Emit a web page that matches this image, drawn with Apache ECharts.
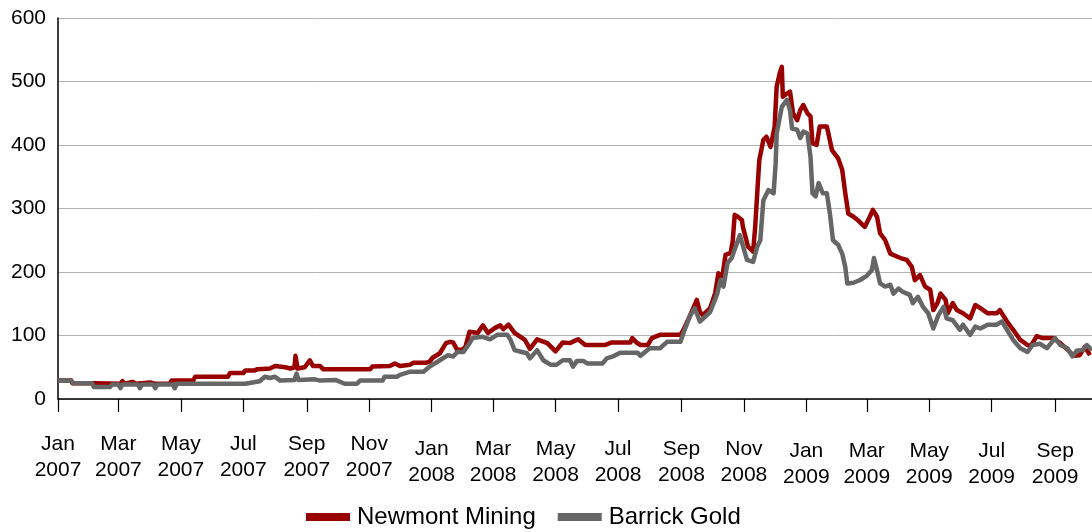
<!DOCTYPE html>
<html>
<head>
<meta charset="utf-8">
<script src="https://cdn.jsdelivr.net/npm/echarts@6/dist/echarts.min.js"></script>
<style>
html,body{margin:0;padding:0;background:#fff;}
#chart{width:1092px;height:532px;}
</style>
</head>
<body>
<div id="chart"></div>
<script>
// ---- Data ----
const seriesNames = ['Newmont Mining', 'Barrick Gold'];

const newmontDates = ['2007-01-01','2007-01-14','2007-01-15','2007-02-07','2007-02-08','2007-03-03','2007-03-05','2007-03-07','2007-03-15','2007-03-18','2007-04-01','2007-04-05','2007-04-20','2007-04-22','2007-05-13','2007-05-15','2007-06-16','2007-06-18','2007-07-01','2007-07-03','2007-07-12','2007-07-15','2007-07-27','2007-08-01','2007-08-11','2007-08-16','2007-08-20','2007-08-21','2007-08-23','2007-08-30','2007-09-04','2007-09-07','2007-09-14','2007-09-17','2007-11-02','2007-11-04','2007-11-21','2007-11-26','2007-12-01','2007-12-11','2007-12-14','2007-12-26','2007-12-30','2008-01-02','2008-01-09','2008-01-15','2008-01-19','2008-01-22','2008-01-26','2008-01-31','2008-02-03','2008-02-07','2008-02-15','2008-02-20','2008-02-25','2008-03-03','2008-03-08','2008-03-11','2008-03-16','2008-03-22','2008-04-01','2008-04-06','2008-04-13','2008-04-23','2008-05-01','2008-05-08','2008-05-15','2008-05-23','2008-05-30','2008-06-18','2008-06-25','2008-07-13','2008-07-15','2008-07-19','2008-07-23','2008-07-30','2008-08-03','2008-08-11','2008-08-31','2008-09-03','2008-09-09','2008-09-16','2008-09-19','2008-09-22','2008-09-29','2008-10-04','2008-10-07','2008-10-11','2008-10-14','2008-10-19','2008-10-21','2008-10-23','2008-10-26','2008-10-30','2008-10-31','2008-11-05','2008-11-10','2008-11-12','2008-11-14','2008-11-16','2008-11-20','2008-11-23','2008-11-27','2008-12-01','2008-12-03','2008-12-06','2008-12-08','2008-12-09','2008-12-13','2008-12-16','2008-12-19','2008-12-23','2008-12-26','2008-12-29','2009-01-02','2009-01-05','2009-01-07','2009-01-11','2009-01-14','2009-01-21','2009-01-26','2009-02-01','2009-02-05','2009-02-08','2009-02-11','2009-02-16','2009-02-20','2009-02-27','2009-03-04','2009-03-07','2009-03-11','2009-03-14','2009-03-19','2009-03-24','2009-03-31','2009-04-03','2009-04-09','2009-04-14','2009-04-17','2009-04-22','2009-04-27','2009-05-02','2009-05-05','2009-05-09','2009-05-12','2009-05-17','2009-05-19','2009-05-24','2009-05-28','2009-06-03','2009-06-10','2009-06-15','2009-06-20','2009-06-27','2009-07-06','2009-07-09','2009-07-16','2009-07-22','2009-07-29','2009-08-05','2009-08-08','2009-08-14','2009-08-20','2009-08-30','2009-09-06','2009-09-13','2009-09-19','2009-09-25','2009-09-30','2009-10-05'];
const newmontValues = [29,29,25,25,24,24,28,24,27,24,26,24,24,29,29,35,35,41,41,45,45,47,48,52,50,48,50,68,48,50,61,52,52,47,47,51,52,56,52,54,57,57,59,65,72,88,90,89,77,78,82,106,104,116,104,112,116,110,117,104,93,79,94,88,75,89,88,94,85,85,89,89,96,89,85,85,96,101,101,109,130,156,137,132,143,167,198,193,227,230,248,290,287,282,271,240,232,271,324,376,408,413,397,429,492,513,523,476,481,484,450,439,455,463,450,445,403,400,429,429,392,379,361,324,292,287,282,271,287,298,287,261,250,229,224,222,219,208,187,195,177,172,140,151,166,156,135,151,140,135,127,148,143,135,135,140,122,109,93,85,83,99,96,96,88,78,68,69,82,69];

const barrickDates = ['2007-01-01','2007-01-14','2007-01-16','2007-02-03','2007-02-05','2007-02-21','2007-02-23','2007-03-01','2007-03-03','2007-03-05','2007-03-20','2007-03-22','2007-03-24','2007-04-04','2007-04-06','2007-04-08','2007-04-23','2007-04-25','2007-04-27','2007-07-03','2007-07-17','2007-07-22','2007-07-27','2007-08-01','2007-08-06','2007-08-20','2007-08-22','2007-08-24','2007-09-09','2007-09-14','2007-09-29','2007-10-08','2007-10-20','2007-10-23','2007-11-14','2007-11-16','2007-11-28','2007-12-01','2007-12-11','2007-12-24','2007-12-30','2008-01-09','2008-01-17','2008-01-22','2008-01-26','2008-02-01','2008-02-07','2008-02-10','2008-02-20','2008-02-27','2008-03-05','2008-03-15','2008-03-18','2008-03-22','2008-03-29','2008-04-03','2008-04-06','2008-04-13','2008-04-19','2008-04-26','2008-05-02','2008-05-08','2008-05-15','2008-05-18','2008-05-22','2008-05-28','2008-06-01','2008-06-16','2008-06-20','2008-06-26','2008-07-03','2008-07-20','2008-07-23','2008-08-01','2008-08-11','2008-08-18','2008-08-31','2008-09-03','2008-09-09','2008-09-14','2008-09-19','2008-09-29','2008-10-06','2008-10-09','2008-10-12','2008-10-16','2008-10-20','2008-10-28','2008-11-04','2008-11-10','2008-11-14','2008-11-17','2008-11-20','2008-11-25','2008-11-30','2008-12-02','2008-12-03','2008-12-08','2008-12-13','2008-12-16','2008-12-18','2008-12-23','2008-12-26','2008-12-29','2009-01-02','2009-01-05','2009-01-07','2009-01-10','2009-01-13','2009-01-17','2009-01-21','2009-01-24','2009-01-27','2009-02-01','2009-02-05','2009-02-08','2009-02-10','2009-02-16','2009-02-22','2009-03-01','2009-03-06','2009-03-08','2009-03-11','2009-03-14','2009-03-19','2009-03-24','2009-03-27','2009-04-01','2009-04-05','2009-04-12','2009-04-15','2009-04-20','2009-04-25','2009-04-30','2009-05-05','2009-05-10','2009-05-15','2009-05-18','2009-05-24','2009-05-31','2009-06-03','2009-06-10','2009-06-15','2009-06-20','2009-06-27','2009-07-06','2009-07-11','2009-07-16','2009-07-22','2009-07-29','2009-08-05','2009-08-10','2009-08-17','2009-08-24','2009-09-01','2009-09-06','2009-09-13','2009-09-18','2009-09-22','2009-09-28','2009-10-02','2009-10-07'];
const barrickValues = [29,29,25,25,19,19,23,23,17,23,23,17,23,23,17,23,23,17,24,24,28,35,33,35,29,30,40,30,31,29,30,24,24,29,29,35,35,38,43,43,51,61,69,67,74,74,88,96,98,94,101,101,93,77,74,72,64,77,61,54,54,61,61,51,60,60,56,56,64,67,73,73,68,80,80,90,90,104,130,143,122,137,166,187,177,214,222,258,219,216,240,250,313,329,324,371,418,460,471,455,426,424,411,421,418,382,324,319,340,324,324,292,250,243,229,208,182,183,187,194,203,222,203,182,177,180,166,174,169,164,151,161,145,135,111,132,145,127,124,109,117,101,114,111,117,117,122,109,93,80,74,85,87,80,96,85,80,67,76,77,85,77];

const tickDates = ['2007-01-01','2007-03-01','2007-05-01','2007-07-01','2007-09-01','2007-11-01','2008-01-01','2008-03-01','2008-05-01','2008-07-01','2008-09-01','2008-11-01','2009-01-01','2009-03-01','2009-05-01','2009-07-01','2009-09-01'];
const tickLabels = ['Jan\n2007','Mar\n2007','May\n2007','Jul\n2007','Sep\n2007','Nov\n2007','Jan\n2008','Mar\n2008','May\n2008','Jul\n2008','Sep\n2008','Nov\n2008','Jan\n2009','Mar\n2009','May\n2009','Jul\n2009','Sep\n2009'];
const labelYears = ['2007', '2008', '2009'];
const axisStart = '2007-01-01';
const axisEnd = '2009-10-07';
const yMin = 0, yMax = 600, yStep = 100;

// ---- helpers ----
function toTs(s) { const p = s.split('-').map(Number); return Date.UTC(p[0], p[1] - 1, p[2]); }
const tickTs = tickDates.map(toTs);
function zip(d, v) { return d.map((x, i) => [toTs(x), v[i]]); }

const FONT = "'Liberation Sans', Arial, sans-serif";
const labelMargins = [32, 37, 39]; // the reference's label rows sit slightly lower each year

const xAxes = labelYears.map(function (yr, k) {
  const vals = tickTs.filter((t, i) => tickDates[i].slice(0, 4) === yr);
  return {
    type: 'value', position: 'bottom',
    min: toTs(axisStart), max: toTs(axisEnd),
    axisLine: { show: k === 0, lineStyle: { color: '#000', width: 1.5 } },
    axisTick: { show: k === 0, length: 13, lineStyle: { color: '#000', width: 1.2 }, customValues: tickTs },
    axisLabel: {
      customValues: vals,
      margin: labelMargins[k],
      fontFamily: FONT, fontSize: 21, color: '#000', lineHeight: 26,
      formatter: function (v) { const i = tickTs.indexOf(v); return i >= 0 ? tickLabels[i] : ''; }
    },
    splitLine: { show: false }
  };
});

const chart = echarts.init(document.getElementById('chart'), null, { renderer: 'canvas' });
chart.setOption({
  animation: false,
  backgroundColor: '#ffffff',
  grid: { left: 58, right: 0, top: 18, bottom: 133, containLabel: false },
  legend: {
    left: 306, top: 505, padding: 0,
    itemWidth: 44, itemHeight: 8, itemGap: 22,
    icon: 'rect',
    textStyle: { fontFamily: FONT, fontSize: 24, color: '#000', padding: [0, 0, 0, 2] },
    data: seriesNames
  },
  xAxis: xAxes,
  yAxis: {
    type: 'value', min: yMin, max: yMax, interval: yStep,
    axisLine: { show: true, lineStyle: { color: '#000', width: 1.5 } },
    axisTick: { show: false },
    axisLabel: { margin: 12, fontFamily: FONT, fontSize: 21, color: '#000' },
    splitLine: { show: true, lineStyle: { color: '#b3b3b3', width: 1 } }
  },
  series: [
    { name: seriesNames[0], type: 'line', xAxisIndex: 0, data: zip(newmontDates, newmontValues), showSymbol: false, symbol: 'none',
      itemStyle: { color: '#990000' }, lineStyle: { color: '#990000', width: 4.5, join: 'round' }, z: 2 },
    { name: seriesNames[1], type: 'line', xAxisIndex: 0, data: zip(barrickDates, barrickValues), showSymbol: false, symbol: 'none',
      itemStyle: { color: '#666666' }, lineStyle: { color: '#666666', width: 4.5, join: 'round' }, z: 3 }
  ]
});
</script>
</body>
</html>
